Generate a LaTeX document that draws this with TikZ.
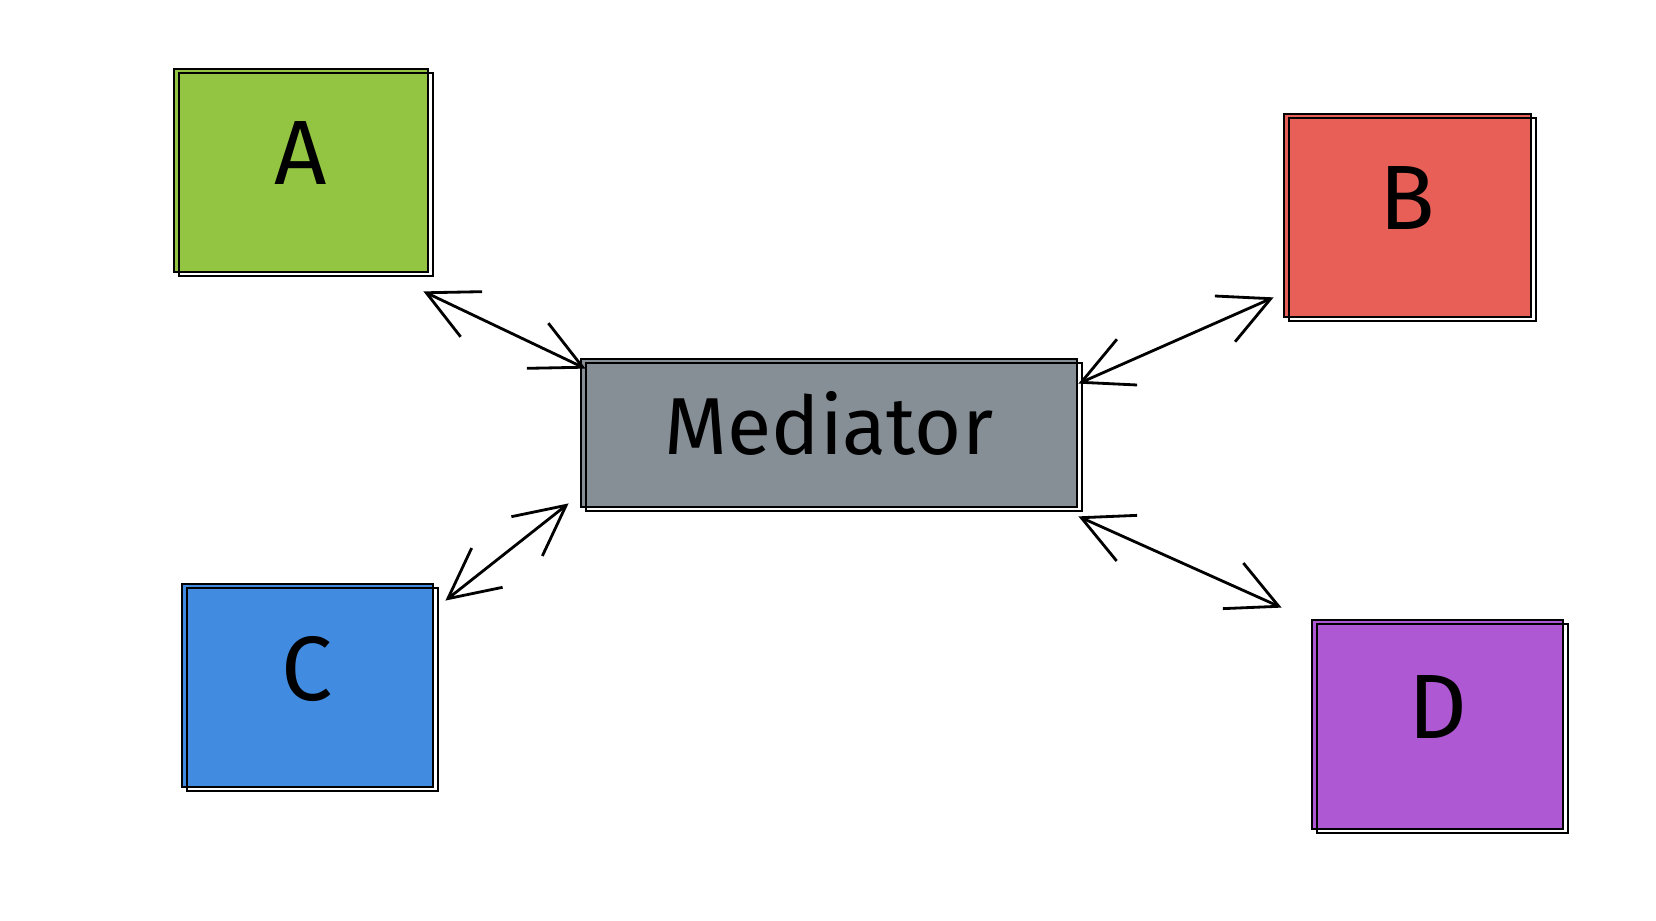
\documentclass[tikz,border=0pt]{standalone}
\usepackage{fontspec}
\setmainfont{Fira Sans}
\usetikzlibrary{arrows.meta,positioning}
\definecolor{boxgreen}{HTML}{93C543}
\definecolor{boxred}{HTML}{E85F58}
\definecolor{boxblue}{HTML}{418BE0}
\definecolor{boxpurple}{HTML}{AE58D3}
\definecolor{boxgray}{HTML}{868E96}
\begin{document}
\begin{tikzpicture}[
  part/.style={draw=black,line width=0.8pt,minimum width=2.5cm,
    minimum height=2.03cm,font=\fontsize{26}{26}\selectfont,
    text depth=0.35cm,
    postaction={draw,line width=0.5pt,
      transform canvas={shift={(0.05cm,-0.04cm)}}}},
  arr/.style={{Straight Barb[length=5mm,width=5mm]}-{Straight Barb[length=5mm,width=5mm]},
    line width=0.8pt}
]
  \useasboundingbox (0,0) rectangle (16.56,9.20);

  \node[part,fill=boxgray,minimum width=4.96cm,minimum height=1.48cm,
    font=\fontsize{23}{23}\selectfont,text depth=0.2cm] (med) at (8.29,4.87) {Mediator};

  \node[part,fill=boxgreen,minimum width=2.54cm] (a) at (3.01,7.495) {A};
  \node[part,fill=boxred,minimum width=2.47cm] (b) at (14.075,7.045) {B};
  \node[part,fill=boxblue,minimum width=2.51cm] (c) at (3.075,2.345) {C};
  \node[part,fill=boxpurple,minimum width=2.51cm,minimum height=2.09cm] (d) at (14.375,1.955) {D};

  \draw[arr] ([shift={(-0.06,-0.18)}]a.south east) -- ([shift={(0.06,-0.11)}]med.north west);
  \draw[arr] ([shift={(0,-0.26)}]med.north east) -- ([shift={(-0.09,0.21)}]b.south west);
  \draw[arr] ([shift={(0.11,-0.18)}]c.north east) -- ([shift={(-0.11,0.05)}]med.south west);
  \draw[arr] ([shift={(0,-0.08)}]med.south east) -- ([shift={(-0.29,0.11)}]d.north west);
\end{tikzpicture}
\end{document}
